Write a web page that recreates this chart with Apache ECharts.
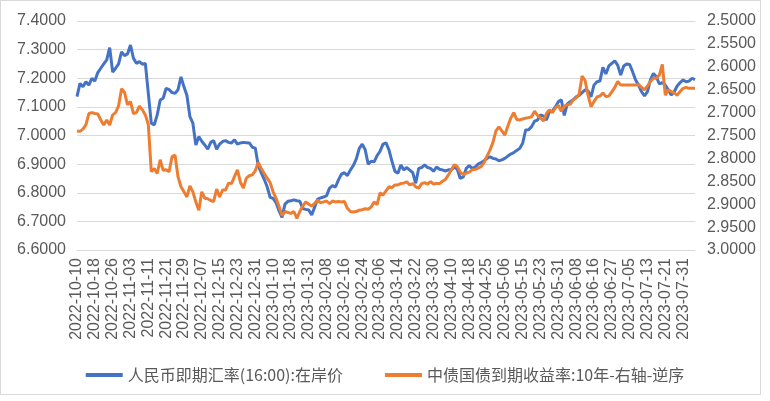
<!DOCTYPE html>
<html>
<head>
<meta charset="utf-8">
<script src="https://cdn.jsdelivr.net/npm/echarts@6/dist/echarts.min.js"></script>
<style>
html,body{margin:0;padding:0;background:#fff}
#frame{position:absolute;left:0;top:0;width:761px;height:395px;border:1px solid #d9d9d9;box-sizing:border-box}
#chart{position:absolute;left:0;top:0;width:770px;height:401px}
</style>
</head>
<body>
<div id="frame"></div>
<div id="chart"></div>
<script>
// trading calendar (CN interbank), weekend make-up days included
const startDate = '2022-10-10'
const endDate = '2023-08-04'
const holidays = ['2023-01-02','2023-01-23','2023-01-24','2023-01-25','2023-01-26','2023-01-27',
  '2023-04-05','2023-05-01','2023-05-02','2023-05-03','2023-06-22','2023-06-23']
const extraDays = ['2022-12-31','2023-01-28','2023-01-29','2023-04-23','2023-05-06','2023-06-25']

const seriesNames = ['人民币即期汇率(16:00):在岸价', '中债国债到期收益率:10年-右轴-逆序']

// 人民币即期汇率 (left axis)
const cnyRate = [
  7.136,7.182,7.170,7.188,7.176,7.200,7.190,7.220,7.235,7.250,
  7.264,7.307,7.222,7.235,7.250,7.292,7.279,7.285,7.316,7.270,
  7.252,7.258,7.249,7.252,7.148,7.043,7.037,7.072,7.124,7.130,
  7.165,7.160,7.150,7.147,7.160,7.205,7.170,7.140,7.066,7.043,
  6.967,6.996,6.980,6.967,6.952,6.976,6.982,6.952,6.970,6.979,
  6.982,6.976,6.974,6.985,6.970,6.974,6.976,6.975,6.974,6.959,
  6.956,6.895,6.870,6.847,6.821,6.784,6.780,6.765,6.737,6.714,
  6.760,6.770,6.772,6.775,6.772,6.770,6.745,6.742,6.740,6.722,
  6.750,6.778,6.782,6.785,6.790,6.816,6.825,6.820,6.845,6.865,
  6.870,6.860,6.879,6.895,6.918,6.955,6.970,6.950,6.900,6.910,
  6.908,6.930,6.945,6.970,6.974,6.950,6.910,6.875,6.868,6.897,
  6.880,6.888,6.879,6.870,6.833,6.885,6.888,6.897,6.888,6.885,
  6.875,6.890,6.882,6.880,6.876,6.880,6.880,6.890,6.882,6.850,
  6.855,6.885,6.895,6.885,6.890,6.900,6.905,6.912,6.920,6.926,
  6.920,6.918,6.912,6.915,6.920,6.928,6.935,6.940,6.948,6.955,
  6.973,7.019,7.020,7.031,7.050,7.054,7.072,7.068,7.054,7.083,
  7.085,7.100,7.118,7.125,7.070,7.110,7.118,7.125,7.135,7.140,
  7.150,7.159,7.156,7.135,7.176,7.188,7.190,7.238,7.215,7.243,
  7.252,7.261,7.245,7.211,7.243,7.250,7.248,7.223,7.194,7.176,
  7.153,7.138,7.153,7.194,7.217,7.205,7.180,7.185,7.176,7.160,
  7.141,7.153,7.173,7.185,7.194,7.188,7.190,7.200,7.195
]

// 中债国债到期收益率:10年 (right axis, inverted)
const cgb10y = [
  2.740,2.741,2.736,2.727,2.702,2.700,2.702,2.703,2.716,2.727,
  2.716,2.727,2.705,2.700,2.685,2.648,2.656,2.683,2.676,2.702,
  2.700,2.686,2.694,2.705,2.726,2.829,2.822,2.833,2.803,2.826,
  2.825,2.829,2.796,2.793,2.840,2.862,2.873,2.884,2.860,2.873,
  2.895,2.913,2.873,2.887,2.888,2.892,2.894,2.867,2.884,2.869,
  2.869,2.854,2.855,2.840,2.825,2.852,2.865,2.843,2.838,2.836,
  2.827,2.809,2.822,2.833,2.843,2.853,2.873,2.887,2.905,2.925,
  2.916,2.918,2.920,2.916,2.931,2.916,2.904,2.895,2.900,2.904,
  2.898,2.891,2.897,2.895,2.893,2.899,2.893,2.895,2.894,2.895,
  2.894,2.909,2.916,2.917,2.916,2.913,2.912,2.910,2.911,2.906,
  2.895,2.901,2.875,2.880,2.871,2.862,2.864,2.858,2.858,2.855,
  2.854,2.851,2.858,2.855,2.862,2.865,2.855,2.853,2.856,2.851,
  2.856,2.855,2.855,2.850,2.846,2.836,2.825,2.814,2.818,2.830,
  2.836,2.832,2.830,2.825,2.824,2.821,2.818,2.809,2.795,2.782,
  2.765,2.740,2.731,2.740,2.749,2.730,2.712,2.700,2.715,2.716,
  2.714,2.712,2.711,2.709,2.697,2.706,2.712,2.718,2.702,2.694,
  2.700,2.690,2.684,2.697,2.686,2.683,2.682,2.672,2.668,2.660,
  2.620,2.630,2.662,2.687,2.676,2.666,2.664,2.657,2.665,2.664,
  2.655,2.645,2.632,2.640,2.640,2.640,2.640,2.640,2.640,2.638,
  2.645,2.650,2.642,2.632,2.625,2.625,2.618,2.595,2.662,2.650,
  2.654,2.657,2.662,2.654,2.647,2.645,2.647,2.647,2.647
]

function tradingDays(from, to){
  const out = []
  const d = new Date(from + 'T00:00:00Z')
  const end = new Date(to + 'T00:00:00Z')
  while (d <= end) {
    const s = d.toISOString().slice(0, 10)
    const wd = d.getUTCDay()
    if ((wd > 0 && wd < 6 && holidays.indexOf(s) < 0) || extraDays.indexOf(s) >= 0) out.push(s)
    d.setUTCDate(d.getUTCDate() + 1)
  }
  return out
}
const dates = tradingDays(startDate, endDate)

const labelFont = { fontSize: 16, color: '#595959', fontFamily: 'Liberation Sans' }

const myChart = echarts.init(document.getElementById('chart'))
myChart.setOption({
  animation: false,
  color: ['#4472C4', '#ED7D31'],
  grid: { left: 77, right: 75, top: 21, bottom: 151 },
  legend: {
    left: 'center',
    top: 362,
    icon: 'rect',
    itemWidth: 37,
    itemHeight: 4,
    itemGap: 42,
    textStyle: { fontSize: 16, color: '#595959', fontFamily: 'Noto Sans CJK SC' },
    data: seriesNames
  },
  xAxis: {
    type: 'category',
    boundaryGap: false,
    data: dates,
    axisLine: { lineStyle: { color: '#d9d9d9' } },
    axisTick: { show: false },
    axisLabel: Object.assign({ interval: 5, rotate: 90, margin: 8 }, labelFont)
  },
  yAxis: [{
    type: 'value',
    min: 6.6,
    max: 7.4,
    interval: 0.1,
    axisLine: { show: false },
    axisTick: { show: false },
    splitLine: { lineStyle: { color: '#d9d9d9' } },
    axisLabel: Object.assign({ margin: 11, formatter: v => v.toFixed(4) }, labelFont)
  }, {
    type: 'value',
    min: 2.5,
    max: 3.0,
    interval: 0.05,
    inverse: true,
    axisLine: { show: false },
    axisTick: { show: false },
    splitLine: { show: false },
    axisLabel: Object.assign({ margin: 12, formatter: v => v.toFixed(4) }, labelFont)
  }],
  series: [{
    name: seriesNames[0],
    type: 'line',
    yAxisIndex: 0,
    showSymbol: false,
    lineStyle: { width: 3 },
    data: cnyRate
  }, {
    name: seriesNames[1],
    type: 'line',
    yAxisIndex: 1,
    showSymbol: false,
    lineStyle: { width: 3 },
    data: cgb10y
  }]
})
</script>
</body>
</html>
